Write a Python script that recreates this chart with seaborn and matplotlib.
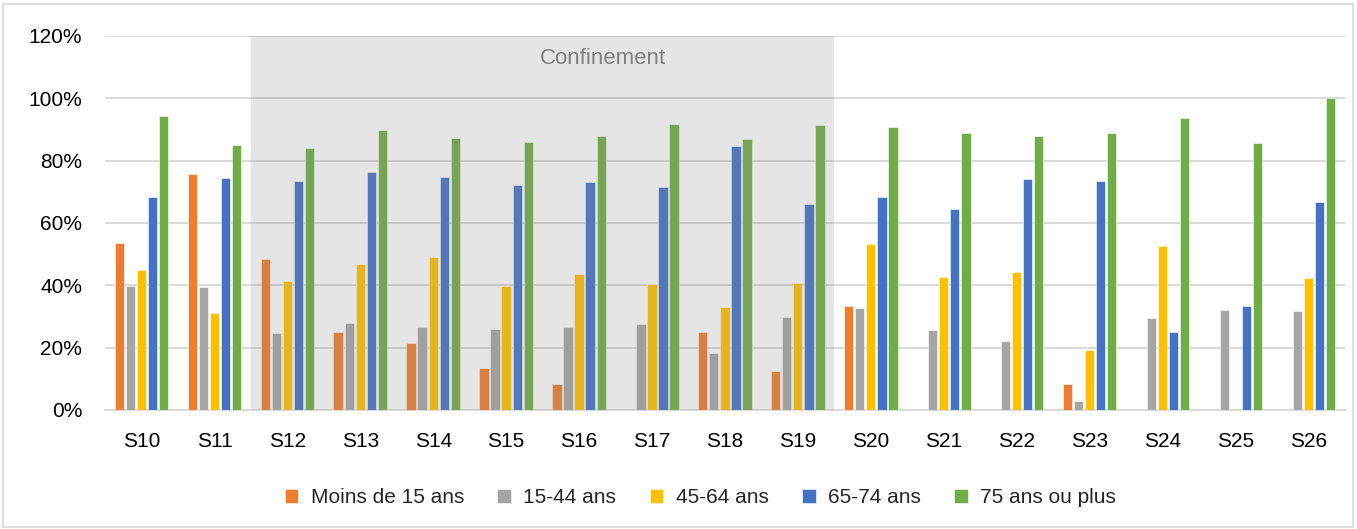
import matplotlib
matplotlib.use("Agg")
import matplotlib.pyplot as plt
import seaborn as sns
import pandas as pd
from matplotlib.ticker import FuncFormatter
from matplotlib.patches import Rectangle

semaines = ["S10", "S11", "S12", "S13", "S14", "S15", "S16", "S17", "S18",
            "S19", "S20", "S21", "S22", "S23", "S24", "S25", "S26"]
groupes = ["Moins de 15 ans", "15-44 ans", "45-64 ans", "65-74 ans", "75 ans ou plus"]
moins15 = [53.5, 75.7, 48.6, 25.0, 21.4, 13.4, 8.3, 0, 24.9, 12.5, 33.4, 0, 0, 8.3, 0, 0, 0]
a15_44 = [39.8, 39.5, 24.8, 27.8, 26.5, 25.9, 26.6, 27.5, 18.3, 29.8, 32.6, 25.8, 22.0, 3.0, 29.4, 32.0, 31.6]
a45_64 = [44.9, 31.1, 41.5, 46.7, 49.1, 39.8, 43.6, 40.3, 32.9, 40.7, 53.3, 42.7, 44.4, 19.2, 52.6, 0, 42.2]
a65_74 = [68.3, 74.4, 73.6, 76.2, 74.7, 72.1, 73.3, 71.5, 84.7, 66.0, 68.2, 64.5, 74.0, 73.4, 25.0, 33.4, 66.6]
a75plus = [94.3, 85.0, 84.2, 89.9, 87.4, 86.0, 88.0, 91.8, 87.1, 91.4, 90.7, 89.0, 87.9, 88.9, 93.7, 85.7, 100.0]
yticks = [0, 20, 40, 60, 80, 100, 120]
couleurs = ["#ED7D31", "#A5A5A5", "#FFC000", "#4472C4", "#70AD47"]
confinement = ("S12", "S19")
label_confinement = "Confinement"

series = [moins15, a15_44, a45_64, a65_74, a75plus]
rows = []
for g, vals in zip(groupes, series):
    for s, v in zip(semaines, vals):
        rows.append({"semaine": s, "groupe": g, "valeur": v})
df = pd.DataFrame(rows)

sns.set_theme(style="white")
plt.rcParams["font.family"] = ["Liberation Sans", "DejaVu Sans"]

fig = plt.figure(figsize=(13.57, 5.29), dpi=100)
ax = fig.add_axes([0.0774, 0.225, 0.9136, 0.707])

sns.barplot(data=df, x="semaine", y="valeur", hue="groupe", order=semaines,
            hue_order=groupes, palette=couleurs, saturation=1, width=0.76, gap=0.16,
            edgecolor="white", linewidth=0.4, ax=ax, zorder=3)

ax.set_ylim(0, 120)
ax.set_xlim(-0.5, len(semaines) - 0.5)
ax.set_yticks(yticks)
ax.yaxis.set_major_formatter(FuncFormatter(lambda v, p: f"{int(v)}%"))
ax.grid(axis="y", color="#d9d9d9", linewidth=1.4, zorder=0)
ax.set_axisbelow(True)
for side in ["left", "right", "top"]:
    ax.spines[side].set_visible(False)
ax.spines["bottom"].set_color("#d9d9d9")
ax.spines["bottom"].set_linewidth(1.4)
ax.tick_params(axis="y", length=0, pad=16.5, labelsize=15, labelcolor="#000000")
ax.tick_params(axis="x", length=0, pad=16, labelsize=15, labelcolor="#000000")
ax.set_xlabel("")
ax.set_ylabel("")

i0 = semaines.index(confinement[0]) - 0.5
i1 = semaines.index(confinement[1]) + 0.5
ax.axvspan(i0, i1, ymin=0, ymax=1, facecolor="#8c8c8c", alpha=0.22, zorder=5, linewidth=0)
ax.text(6.33, 112.8, label_confinement, ha="center", va="center", fontsize=16,
        color="#808080", zorder=6)

handles, labels = ax.get_legend_handles_labels()
ax.get_legend().remove()
fig.legend(handles, labels, loc="center", bbox_to_anchor=(0.516, 0.059), ncol=5,
           frameon=False, fontsize=15, handlelength=0.67, handleheight=0.67,
           handletextpad=0.58, columnspacing=1.6)

fig.patches.append(Rectangle((0.002, 0.004), 0.995, 0.988, transform=fig.transFigure,
                             fill=False, edgecolor="#d9d9d9", linewidth=1.2))

fig.savefig("out.png", dpi=100)
